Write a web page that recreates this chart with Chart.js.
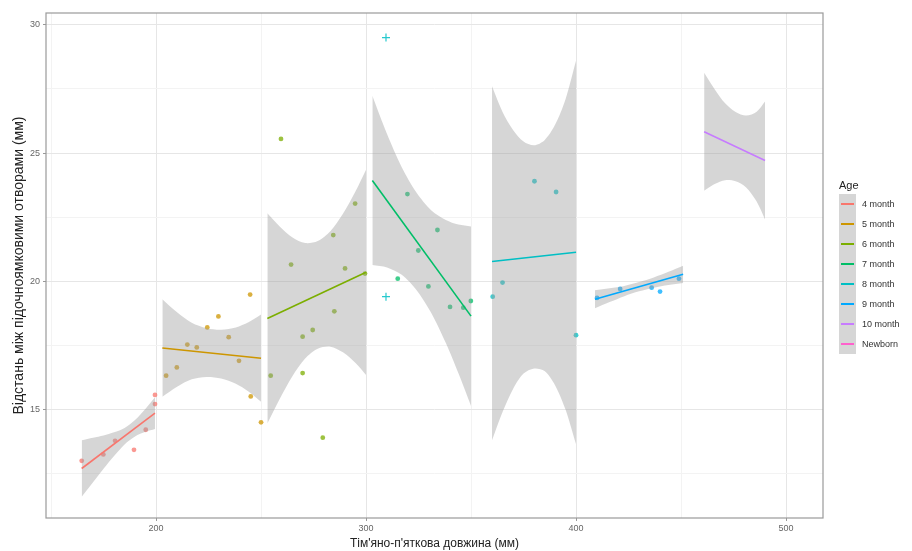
<!DOCTYPE html>
<html>
<head>
<meta charset="utf-8">
<script src="https://cdn.jsdelivr.net/npm/chart.js@4.4.1/dist/chart.umd.min.js"></script>
<style>
body{margin:0;background:#fff}
#wrap{position:relative;width:912px;height:551px}
#legend{position:absolute;left:839px;top:176px;font-family:"Liberation Sans",Arial,sans-serif}
#legend .ttl{font-size:11px;color:#222;height:18px;line-height:18px}
#legend .row{display:flex;align-items:center;height:20px}
#legend .key{width:17px;height:20px;background:#d6d6d6;position:relative}
#legend .key i{position:absolute;left:2px;right:2px;top:9px;height:1.5px}
#legend .lab{font-size:9px;color:#333;margin-left:6px}
</style>
</head>
<body>
<div id="wrap">
<canvas id="chart" width="912" height="551"></canvas>
<div id="legend"></div>
</div>
<script>
// age groups and ggplot hue colours
const ages = ["4 month","5 month","6 month","7 month","8 month","9 month","10 month","Newborn"]
const colors = ["#F8766D","#CD9600","#7CAE00","#00BE67","#00BFC4","#00A9FF","#C77CFF","#FF61CC"]

// observed points
const m4X = [164.6,174.9,180.5,189.5,195.1,199.5,199.5]
const m4Y = [13.0,13.25,13.78,13.43,14.21,15.21,15.57]
const m5X = [204.8,209.9,214.9,219.4,224.4,229.7,234.6,239.5,244.8,245.1,250]
const m5Y = [16.32,16.64,17.53,17.42,18.2,18.63,17.82,16.9,19.48,15.51,14.5]
const m6X = [254.6,259.5,264.3,269.8,269.8,274.6,279.4,284.4,284.9,290,294.8,299.5]
const m6Y = [16.32,25.55,20.65,17.84,16.42,18.1,13.9,21.8,18.83,20.5,23.03,20.3]
const m7X = [315.1,319.7,324.9,329.7,334,340,346.3,349.9]
const m7Y = [20.1,23.4,21.2,19.8,22.0,19.0,18.97,19.23]
const m7CrossX = [309.5,309.5]
const m7CrossY = [29.5,19.4]
const m8X = [360.3,365,380.2,390.5,400]
const m8Y = [19.4,19.95,23.9,23.48,17.9]
const m9X = [410,421,436,440,449]
const m9Y = [19.35,19.7,19.75,19.6,20.1]

// fitted lines (start, end)
const fitX = [[164.6,199.5],[203,250],[253,300],[303,350],[360,400],[409,451],[461,490]]
const fitY = [[12.7,14.86],[17.4,17.0],[18.55,20.35],[23.93,18.64],[20.77,21.13],[19.3,20.27],[25.83,24.71]]

// confidence bands
const bandX = [
  [164.6,170,175,180,185,190,195,199.5],
  [203,210,217,224,231,238,244,250],
  [253,259,265,271,277,283,289,295,300],
  [303,310,317,324,331,338,344,350],
  [360,365,370,375,380,385,390,395,400],
  [409,416,423,430,437,444,451],
  [461,466,471,476,481,486,490]
]
const bandHi = [
  [13.8,13.9,13.99,14.11,14.28,14.59,15.03,15.48],
  [19.3,18.79,18.38,18.17,18.11,18.2,18.4,18.7],
  [22.65,22.13,21.71,21.49,21.57,21.95,22.63,23.51,24.35],
  [27.23,25.74,24.45,23.46,22.77,22.39,22.21,22.14],
  [27.6,26.6,25.9,25.45,25.3,25.5,26.1,27.1,28.6],
  [19.65,19.73,19.82,19.97,20.15,20.37,20.61],
  [28.13,27.49,26.94,26.6,26.46,26.61,27.01]
]
const bandLo = [
  [11.6,12.16,12.69,13.19,13.64,13.95,14.13,14.24],
  [15.5,15.89,16.18,16.27,16.21,16.0,15.7,15.3],
  [14.45,15.43,16.31,16.99,17.37,17.45,17.23,16.81,16.35],
  [20.63,20.54,20.25,19.66,18.77,17.59,16.41,15.14],
  [13.8,14.9,15.8,16.4,16.6,16.5,15.95,15.0,13.65],
  [18.95,19.19,19.42,19.61,19.75,19.85,19.93],
  [23.53,23.79,23.94,23.9,23.66,23.11,22.41]
]

const xy = (xs, ys) => xs.map((x, i) => ({x: x, y: ys[i]}))
const fade = (hex, a) => {
  const n = parseInt(hex.slice(1), 16)
  return "rgba(" + (n >> 16) + "," + ((n >> 8) & 255) + "," + (n & 255) + "," + a + ")"
}

const pointSets = [[m4X,m4Y],[m5X,m5Y],[m6X,m6Y],[m7X,m7Y],[m8X,m8Y],[m9X,m9Y]]

const datasets = []

pointSets.forEach((p, g) => {
  datasets.push({
    label: ages[g] + " points",
    data: xy(p[0], p[1]),
    backgroundColor: fade(colors[g], 0.75),
    borderWidth: 0,
    pointRadius: 2.4,
    order: 3
  })
})
datasets.push({
  label: "7 month cross",
  data: xy(m7CrossX, m7CrossY),
  pointStyle: "cross",
  borderColor: fade(colors[4], 0.85),
  borderWidth: 1.2,
  pointRadius: 4,
  order: 3
})

bandX.forEach((bx, g) => {
  datasets.push({
    label: ages[g] + " hi",
    data: xy(bx, bandHi[g]),
    showLine: true,
    borderWidth: 0,
    pointRadius: 0,
    tension: 0.3,
    fill: "+1",
    backgroundColor: "rgba(153,153,153,0.4)",
    order: 2
  })
  datasets.push({
    label: ages[g] + " lo",
    data: xy(bx, bandLo[g]),
    showLine: true,
    borderWidth: 0,
    pointRadius: 0,
    tension: 0.3,
    fill: false,
    order: 2
  })
})

fitX.forEach((fx, g) => {
  datasets.push({
    label: ages[g],
    data: xy(fx, fitY[g]),
    showLine: true,
    borderColor: colors[g],
    borderWidth: 1.6,
    pointRadius: 0,
    fill: false,
    order: 1
  })
})

const panelBorder = {
  id: "panelBorder",
  afterDraw(chart) {
    const a = chart.chartArea, c = chart.ctx
    c.save()
    c.strokeStyle = "#9a9a9a"
    c.lineWidth = 1.2
    c.strokeRect(a.left, a.top, a.right - a.left, a.bottom - a.top)
    c.restore()
  }
}

const isMajor = (v, step) => Math.abs(v / step - Math.round(v / step)) < 1e-6
const font = "'Liberation Sans', Arial, sans-serif"

new Chart(document.getElementById("chart"), {
  type: "scatter",
  data: {datasets: datasets},
  options: {
    responsive: false,
    animation: false,
    layout: {padding: {top: 13, right: 89, left: 6, bottom: 0}},
    plugins: {legend: {display: false}, tooltip: {enabled: false}},
    scales: {
      x: {
        type: "linear",
        min: 147.6,
        max: 517.6,
        afterFit: s => { s.height = 33 },
        border: {display: false},
        grid: {
          color: c => isMajor(c.tick.value, 100) ? "#e6e6e6" : "#f3f3f3",
          tickColor: c => isMajor(c.tick.value, 100) ? "#999" : "rgba(0,0,0,0)",
          tickLength: 3
        },
        ticks: {
          stepSize: 50,
          includeBounds: false,
          autoSkip: false,
          maxRotation: 0,
          padding: 2,
          color: "#666",
          font: {family: font, size: 9},
          callback: v => isMajor(v, 100) ? v : ""
        },
        title: {
          display: true,
          text: "Тім'яно-п'яткова довжина (мм)",
          color: "#222",
          font: {family: font, size: 12},
          padding: 0
        }
      },
      y: {
        type: "linear",
        min: 10.77,
        max: 30.46,
        afterFit: s => { s.width = 40 },
        border: {display: false},
        grid: {
          color: c => isMajor(c.tick.value, 5) ? "#e6e6e6" : "#f3f3f3",
          tickColor: c => isMajor(c.tick.value, 5) ? "#999" : "rgba(0,0,0,0)",
          tickLength: 3
        },
        ticks: {
          stepSize: 2.5,
          includeBounds: false,
          autoSkip: false,
          padding: 3,
          color: "#666",
          font: {family: font, size: 9},
          callback: v => isMajor(v, 5) ? v : ""
        },
        title: {
          display: true,
          text: "Відстань між підочноямковими отворами (мм)",
          color: "#222",
          font: {family: font, size: 14},
          padding: 5
        }
      }
    }
  },
  plugins: [panelBorder]
})

// legend: grey band key with coloured line, like ggplot
const legend = document.getElementById("legend")
legend.innerHTML = '<div class="ttl">Age</div>' + ages.map((a, i) =>
  '<div class="row"><div class="key"><i style="background:' + colors[i] + '"></i></div><span class="lab">' + a + '</span></div>'
).join("")
</script>
</body>
</html>
